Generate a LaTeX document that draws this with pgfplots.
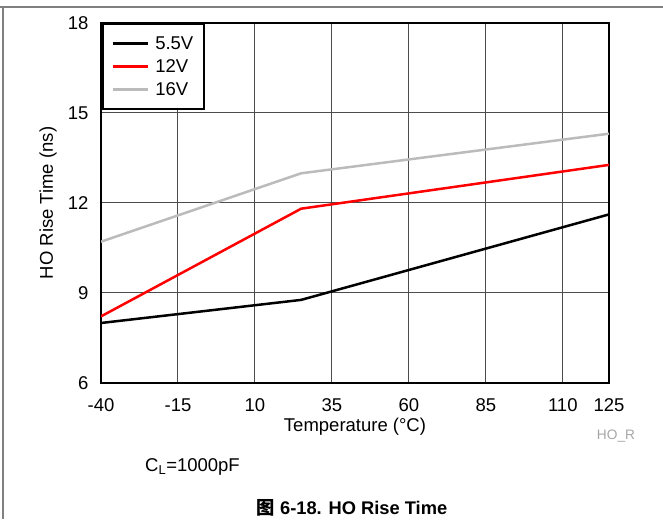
\documentclass[border=0pt]{standalone}
\usepackage{pgfplots}
\pgfplotsset{compat=1.18}
\usepackage{fontspec}
\setmainfont{Liberation Sans}
\newfontfamily\cjk{Noto Sans CJK SC}
\definecolor{grayline}{HTML}{BBBBBB}
\definecolor{framegray}{HTML}{808080}
\begin{document}
\begin{tikzpicture}[x=1pt,y=1pt]
\useasboundingbox (0,0) rectangle (663,519);
\draw[framegray, line width=1.5pt] (0,512) -- (663,512);
\draw[framegray, line width=1.5pt] (3,0) -- (3,512);
\begin{axis}[
  at={(101pt,136pt)}, anchor=south west,
  scale only axis, width=508pt, height=360pt,
  xmin=-40, xmax=125, ymin=6, ymax=18,
  xtick={-40,-15,10,35,60,85,110,125},
  ytick={6,9,12,15,18},
  grid=major,
  grid style={black!70, line width=1pt},
  axis line style={black, line width=2.5pt},
  major tick length=0pt,
  tick label style={font=\fontsize{18.5}{22}\selectfont},
  /pgf/number format/assume math mode=true,
  xticklabel style={yshift=-12pt},
  yticklabel style={xshift=-9pt},
  xlabel={Temperature (°C)},
  ylabel={HO Rise Time (ns)},
  every axis x label/.style={at={(axis description cs:0.5,0)}, anchor=center, yshift=-44pt, font=\fontsize{18.5}{22}\selectfont},
  every axis y label/.style={at={(axis description cs:0,0.5)}, anchor=center, xshift=-53pt, rotate=90, font=\fontsize{18.5}{22}\selectfont},
  legend cell align=left,
  legend style={at={(0,1)}, anchor=north west, draw=black, line width=2.5pt, fill=white,
    font=\fontsize{18.5}{21.5}\selectfont, inner xsep=9pt, inner ysep=8pt, row sep=0pt, column sep=5pt,
    nodes={inner sep=1.5pt, text height=15.5pt, text depth=4.5pt}},
  legend image code/.code={\draw[#1] (0pt,0pt) -- (35pt,0pt);},
]
\addplot[black, line width=2.5pt] coordinates {(-40,8.00) (25,8.77) (125,11.62)};
\addlegendentry{5.5V}
\addplot[red, line width=2.5pt] coordinates {(-40,8.22) (25,11.81) (125,13.27)};
\addlegendentry{12V}
\addplot[grayline, line width=2.5pt] coordinates {(-40,10.71) (25,12.99) (125,14.31)};
\addlegendentry{16V}
\end{axis}
\node[anchor=center, text=black!35, font=\fontsize{13.7}{16}\selectfont] at (616,83) {HO\_R};
\node[anchor=west, font=\fontsize{18.5}{22}\selectfont, inner sep=0pt] at (145,52) {C\textsubscript{L}=1000pF};
\node[anchor=center, font=\fontsize{18.3}{22}\selectfont\bfseries, inner sep=0pt] at (352,11) {{\cjk 图} 6-18. HO Rise Time};
\end{tikzpicture}
\end{document}
